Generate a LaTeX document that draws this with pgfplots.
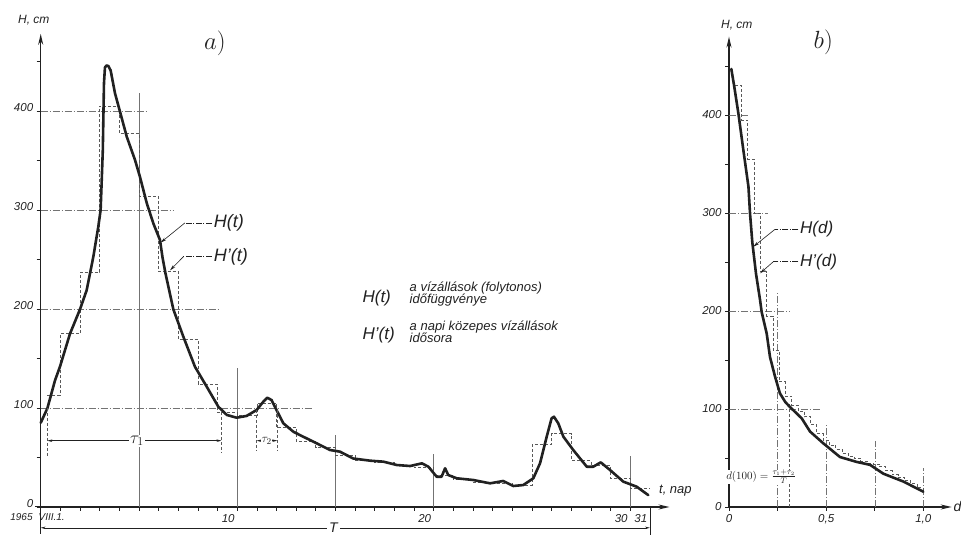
\documentclass[border=0pt]{standalone}
\usepackage{fontspec}
\setmainfont{Liberation Sans}
\usepackage{pgfplots}
\pgfplotsset{compat=1.18}
\usetikzlibrary{arrows.meta}
\definecolor{ink}{gray}{0.13}
\definecolor{gridc}{gray}{0.45}
\definecolor{stepc}{gray}{0.35}
\pgfplotsset{
  panel/.style={
    scale only axis, clip=false, axis lines=left,
    axis line style={ink, line width=1.4pt, -{Stealth[length=11pt,width=5pt]}},
    tick style={ink, line width=0.7pt},
    tick align=outside, major tick length=4pt, minor tick length=4pt,
    /pgf/number format/assume math mode=true,
    ticklabel style={font=\fontsize{11.5}{12}\selectfont\itshape, text=ink},
  },
  curve/.style={ink, line width=2.6pt, line join=round, line cap=round},
  steps/.style={stepc, line width=0.7pt, dash pattern=on 3pt off 2pt, const plot},
  gridl/.style={gridc, line width=0.5pt, dash pattern=on 7pt off 2pt on 1pt off 2pt},
  vline/.style={gridc, line width=0.6pt},
  lead/.style={ink, line width=0.5pt, dash pattern=on 6pt off 1.5pt on 1pt off 1.5pt},
  tip/.style={ink, line width=0.6pt, -{Stealth[length=6pt,width=3pt]}},
  dim/.style={ink, line width=0.5pt, {Stealth[length=5pt,width=2.5pt]}-{Stealth[length=5pt,width=2.5pt]}},
}
\newcommand\hs[1]{\fontsize{#1}{#1}\selectfont\itshape}
\begin{document}
\begin{tikzpicture}
\useasboundingbox (0,0) rectangle (961pt,535pt);
% ---------------- panel a ----------------
\begin{axis}[panel, at={(40.7pt,28pt)}, anchor=south west,
  width=628.8pt, height=473.2pt, xmin=0, xmax=32, ymin=0, ymax=478,
  xtick={0,...,31},
  xticklabels={{},{},{},{},{},{},{},{},{},{},10,{},{},{},{},{},{},{},{},{},20,{},{},{},{},{},{},{},{},{},30,31},
  xticklabel style={xshift=-9pt},
  ytick={0,100,200,300,400}, minor ytick={50,150,250,350,450},
  yticklabel style={yshift=3pt},
]
% grid lines
\addplot[gridl] coordinates {(0,400) (5.36,400)};
\addplot[gridl] coordinates {(0,300) (6.75,300)};
\addplot[gridl] coordinates {(0,200) (9.04,200)};
\addplot[gridl] coordinates {(0,100) (13.84,100)};
\addplot[vline] coordinates {(5,0) (5,418)};
\addplot[vline] coordinates {(10,0) (10,140)};
\addplot[vline] coordinates {(15,0) (15,73)};
\addplot[vline] coordinates {(20,0) (20,54)};
\addplot[vline] coordinates {(30,0) (30,52)};
% daily means H'(t)
\addplot[steps] coordinates {(0.34,113) (1,175) (2,237) (3,405) (4,377) (5,314) (6,238) (7,169) (8,124) (9,96) (10,93) (11,105) (12,80) (13,66) (14,60) (15,52) (16,47) (17,45) (18,42) (19,40) (20,32) (21,28) (22,25) (23,24) (24,22) (25,63) (26,74) (27,47) (28,42) (29,29) (30,19) (31,19)};
% continuous H(t)
\addplot[curve] coordinates {(0,85) (0.34,99.7) (0.73,128) (0.98,141.7) (1.49,175) (2.0,199.7) (2.34,219) (2.51,236) (2.68,253) (2.93,283) (3.05,300) (3.1,327) (3.16,360) (3.19,394) (3.22,428) (3.27,444) (3.35,446) (3.44,445.5) (3.56,441) (3.78,418) (4.04,399) (4.38,374) (4.8,350.5) (5.05,333.6) (5.4,306.8) (5.73,286.6) (6.07,269.7) (6.2,252) (6.35,236) (6.75,199.7) (7.26,172) (7.85,141.7) (8.45,121.5) (9.04,101.3) (9.47,93) (9.97,90.2) (10.48,92) (10.99,98) (11.33,106.4) (11.53,110.4) (11.75,108) (12.0,98) (12.35,84.5) (12.86,76) (13.36,71) (14.05,64.3) (14.72,57.6) (15.23,55.9) (15.9,49) (16.76,46.8) (17.44,45.8) (18.12,42.4) (18.8,41.4) (19.4,44.1) (19.73,40.7) (20.15,30.6) (20.4,30.6) (20.58,39.1) (20.74,32.3) (21.17,29) (22.0,27.3) (22.87,23.9) (23.54,26.3) (24.05,21.2) (24.56,22.2) (25.07,29) (25.41,44.1) (25.75,71) (26.0,89.6) (26.12,91.2) (26.34,84.5) (26.6,71) (27.1,57.6) (27.79,40.7) (28.12,40.7) (28.5,45.1) (28.97,37.4) (29.65,25.6) (30.33,20.5) (30.92,12)};
% tau markers
\addplot[steps] coordinates {(0.34,100) (0.34,52)};
\addplot[steps] coordinates {(9.2,96) (9.2,55)};
\addplot[steps] coordinates {(10.99,98) (10.99,57)};
\addplot[steps] coordinates {(12.04,98) (12.04,57)};
\addplot[dim] coordinates {(0.34,67) (9.2,67)};
\addplot[dim] coordinates {(10.99,67) (12.04,67)};
\node[fill=white, inner sep=1pt, text=ink] at (axis cs:4.9,67) {\fontsize{18}{18}\selectfont$\tau_1$};
\node[fill=white, inner sep=0.5pt, text=ink] at (axis cs:11.5,67) {\fontsize{13}{13}\selectfont$\tau_2$};
% T dimension
\addplot[ink, line width=1pt] coordinates {(0,0) (0,-27)};
\addplot[ink, line width=0.6pt] coordinates {(31,0) (31,-28)};
\addplot[ink, line width=1pt] coordinates {(-0.3,0) (0,0)};
\addplot[dim] coordinates {(0,-21) (31,-21)};
\node[fill=white, inner sep=2pt, text=ink] at (axis cs:14.9,-21) {\hs{14}T};
\node[text=ink, inner sep=0pt] at (axis cs:-0.16,-10.5) {\hs{10}1965\hspace{6pt}VIII.1.};
% callouts
\addplot[lead] coordinates {(8.7,287) (7.34,287)};
\addplot[tip] coordinates {(7.34,287) (6.1,267)};
\addplot[lead] coordinates {(8.7,252.8) (7.26,252.8)};
\addplot[tip] coordinates {(7.26,252.8) (6.58,239)};
\node[anchor=west, text=ink, inner sep=1pt] at (axis cs:8.75,287) {\hs{18}H(t)};
\node[anchor=west, text=ink, inner sep=1pt] at (axis cs:8.75,252.8) {\hs{18}H'(t)};
% explanation
\node[anchor=west, text=ink] at (axis cs:16.2,211) {\hs{17}H(t)};
\node[anchor=west, text=ink, align=left] at (axis cs:18.6,215) {\hs{13}a vízállások (folytonos)\\[-2pt]\hs{13}időfüggvénye};
\node[anchor=west, text=ink] at (axis cs:16.2,174) {\hs{17}H'(t)};
\node[anchor=west, text=ink, align=left] at (axis cs:18.6,177) {\hs{13}a napi közepes vízállások\\[-2pt]\hs{13}idősora};
% titles
\node[text=ink] at (axis cs:8.87,468.7) {\fontsize{24}{24}\selectfont$a)$};
\node[text=ink] at (axis cs:-0.35,492) {\hs{12}H, cm};
\node[text=ink] at (axis cs:32.3,17) {\hs{13}t, nap};
\end{axis}
% ---------------- panel b ----------------
\begin{axis}[panel, at={(729pt,28pt)}, anchor=south west,
  width=222.7pt, height=470.4pt, xmin=0, xmax=1.146, ymin=0, ymax=480,
  xtick={0,0.5,1}, xticklabels={0,{0,5},{1,0}}, minor xtick={0.25,0.75},
  ytick={0,100,200,300,400}, minor ytick={50,150,250,350,450},
]
\addplot[gridl] coordinates {(0,400) (0.103,400)};
\addplot[gridl] coordinates {(0,300) (0.2,300)};
\addplot[gridl] coordinates {(0,200) (0.314,200)};
\addplot[gridl] coordinates {(0,100) (0.477,100)};
\addplot[gridl] coordinates {(0.25,0) (0.25,218)};
\addplot[gridl] coordinates {(0.5,0) (0.5,85)};
\addplot[gridl] coordinates {(0.75,0) (0.75,67)};
\addplot[gridl] coordinates {(1,0) (1,40)};
\addplot[steps] coordinates {(0.31,0) (0.31,106)};
\addplot[steps] coordinates {(0.0323,430) (0.0645,395) (0.0968,355) (0.129,300) (0.161,240) (0.194,195) (0.226,160) (0.258,128) (0.290,113) (0.323,104) (0.355,98) (0.387,92) (0.419,84) (0.452,75) (0.484,68) (0.516,63) (0.548,59) (0.581,55) (0.613,52) (0.645,50) (0.677,47) (0.710,45) (0.742,44) (0.774,41) (0.806,37) (0.839,33) (0.871,30) (0.903,27) (0.935,24) (0.968,20) (1.0,17) (1.0,17)};
\addplot[curve] coordinates {(0.012,447) (0.027,429) (0.048,402) (0.074,364) (0.1,327) (0.108,300) (0.12,270) (0.139,238) (0.16,211) (0.168,199) (0.194,177) (0.211,153) (0.237,133) (0.262,116) (0.29,107) (0.314,102) (0.374,90.5) (0.417,77) (0.485,65) (0.571,51) (0.657,46) (0.726,43) (0.794,34) (0.897,26) (1.0,15.6)};
\addplot[dim] coordinates {(0,29) (0.31,29)};
\node[fill=white, inner sep=0.5pt, text=ink] at (axis cs:0.165,31) {\fontsize{11}{11}\selectfont$d(100)=\frac{\tau_1+\tau_2}{T}$};
\addplot[lead] coordinates {(0.357,283.4) (0.237,283.4)};
\addplot[tip] coordinates {(0.237,283.4) (0.125,265.6)};
\addplot[lead] coordinates {(0.357,250.3) (0.228,250.3)};
\addplot[tip] coordinates {(0.228,250.3) (0.16,238.5)};
\node[anchor=west, text=ink, inner sep=1pt] at (axis cs:0.36,283.4) {\hs{17}H(d)};
\node[anchor=west, text=ink, inner sep=1pt] at (axis cs:0.36,250.3) {\hs{17}H'(d)};
\node[text=ink] at (axis cs:0.485,474) {\fontsize{24}{24}\selectfont$b)$};
\node[text=ink] at (axis cs:0.04,492) {\hs{12}H, cm};
\node[text=ink, anchor=west, inner sep=0pt] at (axis cs:1.155,0) {\hs{14}d};
\end{axis}
\end{tikzpicture}
\end{document}
